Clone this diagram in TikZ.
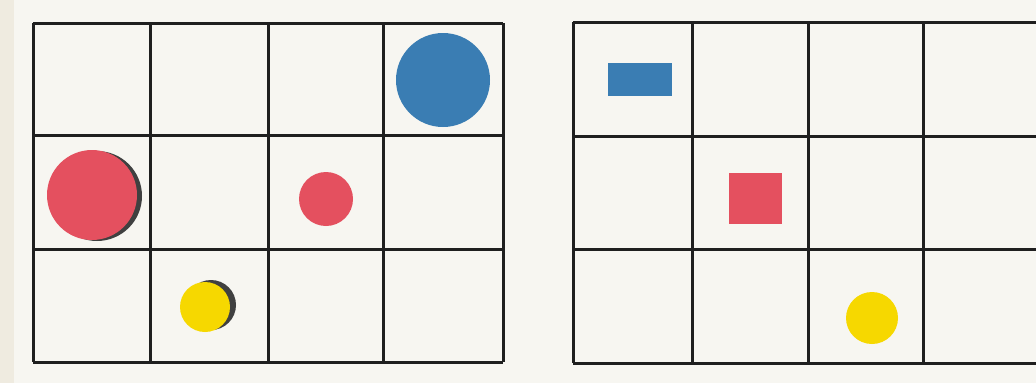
\documentclass[tikz,border=0pt]{standalone}
\begin{document}
\begin{tikzpicture}[x=1pt,y=-1pt,
  gridline/.style={line width=3pt,draw=black!88},
  blueshape/.style={fill=bluec,draw=none},
  redshape/.style={fill=redc,draw=none},
  yellowshape/.style={fill=yellowc,draw=none},
  shadow/.style={fill=black!75,draw=none}]
\definecolor{bluec}{HTML}{3A7DB3}
\definecolor{redc}{HTML}{E4505F}
\definecolor{yellowc}{HTML}{F6D800}
\definecolor{paper}{HTML}{F7F6F1}
\definecolor{margin}{HTML}{EFEBE0}
\fill[paper] (0,0) rectangle (1036,383);
\fill[margin] (0,0) rectangle (14,383);
\useasboundingbox (0,0) rectangle (1036,383);
% left grid
\foreach \x in {33,150,268,383,503} \draw[gridline] (\x,23) -- (\x,362);
\foreach \y in {23,135,249,362} \draw[gridline] (33,\y) -- (503,\y);
% right grid
\foreach \x in {573,692,808,923} \draw[gridline] (\x,22) -- (\x,363);
\foreach \y in {22,136,249,363} \draw[gridline] (573,\y) -- (1036,\y);
% left shapes
\node[blueshape,circle,minimum size=94pt,inner sep=0pt] (bc) at (443,80) {};
\fill[shadow] (97,196) circle (45);
\node[redshape,circle,minimum size=90pt,inner sep=0pt] (rc) at (92,195) {};
\node[redshape,circle,minimum size=54pt,inner sep=0pt] (rs) at (326,199) {};
\fill[shadow] (211,305) circle (25);
\node[yellowshape,circle,minimum size=50pt,inner sep=0pt] (yc) at (205,307) {};
% right shapes
\node[blueshape,rectangle,minimum width=64pt,minimum height=33pt,inner sep=0pt] (br) at (640,79.5) {};
\node[redshape,rectangle,minimum width=53pt,minimum height=51pt,inner sep=0pt] (rq) at (755.5,198.5) {};
\node[yellowshape,circle,minimum size=52pt,inner sep=0pt] (yr) at (872,318) {};
\end{tikzpicture}
\end{document}
